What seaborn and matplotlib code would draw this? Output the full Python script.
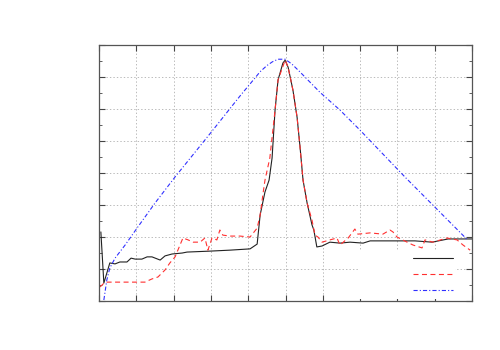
import matplotlib
matplotlib.use("Agg")
import matplotlib.pyplot as plt
import matplotlib.ticker as ticker
import pandas as pd
import seaborn as sns

# solid black series
black_x = [0.5, 1.3, 2.9, 4.3, 5.6, 7.5, 8.6, 9.7, 11.5, 12.9, 14.2, 16.4, 17.7,
           19.6, 22.3, 23.6, 29.8, 35.1, 40.5, 42.4, 43.2, 44.5, 45.6, 46.4,
           47.2, 48.0, 49.3, 49.9, 50.7, 52.0, 53.1, 53.9, 54.7, 55.8, 57.1,
           57.6, 58.4, 59.8, 61.9, 64.6, 67.3, 70.8, 72.7, 77.2, 80.7, 84.7,
           89.3, 93.6, 100.0]
black_y = [2.16, 0.56, 1.19, 1.16, 1.22, 1.22, 1.34, 1.31, 1.31, 1.38, 1.38, 1.28,
           1.41, 1.47, 1.50, 1.53, 1.56, 1.59, 1.63, 1.78, 2.69, 3.41, 3.78,
           4.47, 5.97, 6.91, 7.44, 7.53, 7.31, 6.59, 5.75, 4.81, 3.78, 3.06,
           2.38, 2.22, 1.69, 1.72, 1.84, 1.81, 1.84, 1.81, 1.88, 1.88, 1.88,
           1.88, 1.84, 1.94, 1.94]

# dashed red series
red_x = [0.3, 1.6, 12.3, 14.2, 15.8, 17.7, 19.0, 20.4, 22.5, 23.9, 25.2, 27.1,
         28.4, 29.2, 30.3, 31.6, 32.4, 33.2, 35.1, 37.8, 40.5, 42.4, 43.2,
         44.0, 44.5, 45.8, 47.2, 48.0, 49.9, 50.7, 52.0, 53.1, 53.9, 54.7,
         55.8, 57.1, 57.9, 58.7, 59.8, 61.9, 63.8, 64.6, 66.8, 68.6, 69.4,
         72.7, 76.1, 78.0, 78.8, 79.9, 82.6, 84.2, 86.6, 87.4, 89.5, 93.3,
         96.0, 97.6, 99.5]
red_y = [0.44, 0.59, 0.59, 0.69, 0.75, 0.97, 1.19, 1.38, 1.97, 1.91, 1.84, 1.84,
         1.97, 1.59, 1.97, 1.91, 2.22, 2.06, 2.03, 2.03, 2.00, 2.28, 2.69,
         3.38, 3.78, 4.47, 5.97, 6.91, 7.53, 7.31, 6.59, 5.75, 4.81, 3.78,
         3.06, 2.53, 2.06, 2.00, 1.84, 1.91, 1.97, 1.75, 1.97, 2.25, 2.09,
         2.13, 2.09, 2.22, 2.16, 2.00, 1.84, 1.75, 1.66, 1.91, 1.84, 1.97,
         1.91, 1.75, 1.59]

# dash-dot blue series
blue_x = [1.3, 2.1, 2.9, 4.3, 7.0, 10.2, 15.0, 20.4, 30.3, 37.8, 41.3, 43.2,
          45.0, 46.5, 48.0, 49.9, 51.7, 53.9, 59.2, 64.6, 70.0, 82.0, 89.5,
          98.9]
blue_y = [0.03, 0.66, 1.03, 1.34, 1.75, 2.28, 3.06, 3.88, 5.31, 6.41, 6.90, 7.17,
          7.36, 7.48, 7.56, 7.56, 7.41, 7.16, 6.53, 5.97, 5.34, 3.88, 3.00,
          1.90]

sns.set_style("ticks")
plt.rcParams["lines.scale_dashes"] = False

fig = plt.figure(figsize=(5, 3.5), dpi=100)
ax = fig.add_axes([0.198, 0.14, 0.746, 0.731])

black = pd.DataFrame({"x": black_x, "y": black_y})
red = pd.DataFrame({"x": red_x, "y": red_y})
blue = pd.DataFrame({"x": blue_x, "y": blue_y})

sns.lineplot(data=black, x="x", y="y", ax=ax, color="#222222", linewidth=0.8)
sns.lineplot(data=red, x="x", y="y", ax=ax, color="#ff3030", linewidth=0.8)
sns.lineplot(data=blue, x="x", y="y", ax=ax, color="#3030ff", linewidth=0.8)

lines = ax.get_lines()
lines[1].set_dashes([3.6, 2.5])
lines[2].set_dashes([3.0, 1.5, 0.8, 1.5])

ax.set_xlim(0, 100)
ax.set_ylim(0, 8)
ax.xaxis.set_major_locator(ticker.MultipleLocator(10))
ax.yaxis.set_major_locator(ticker.MultipleLocator(1))
ax.yaxis.set_minor_locator(ticker.MultipleLocator(0.5))
ax.tick_params(which="both", direction="in", top=True, right=True,
               labelbottom=False, labelleft=False, color="#444444")
ax.tick_params(which="major", length=4, width=0.8)
ax.tick_params(which="minor", length=2, width=0.6)
ax.grid(True, which="major", linestyle=(0, (1, 1.5)), linewidth=0.6, color="#b0b0b0")
ax.set_xlabel("")
ax.set_ylabel("")
for s in ax.spines.values():
    s.set_color("#555555")
    s.set_linewidth(0.9)

# gnuplot-style key: blank titles, sample on the right, opaque white box
leg = ax.legend(lines, [" " * 11] * 3, loc="lower right", frameon=True,
                markerfirst=False, handlelength=2.9, handletextpad=0.3,
                labelspacing=0.13, borderpad=0.15, borderaxespad=0.0,
                bbox_to_anchor=(0.9547, 0.006), fancybox=False)
leg.get_frame().set_facecolor("white")
leg.get_frame().set_edgecolor("none")
leg.get_frame().set_alpha(1.0)

fig.savefig("out.png", dpi=100)
